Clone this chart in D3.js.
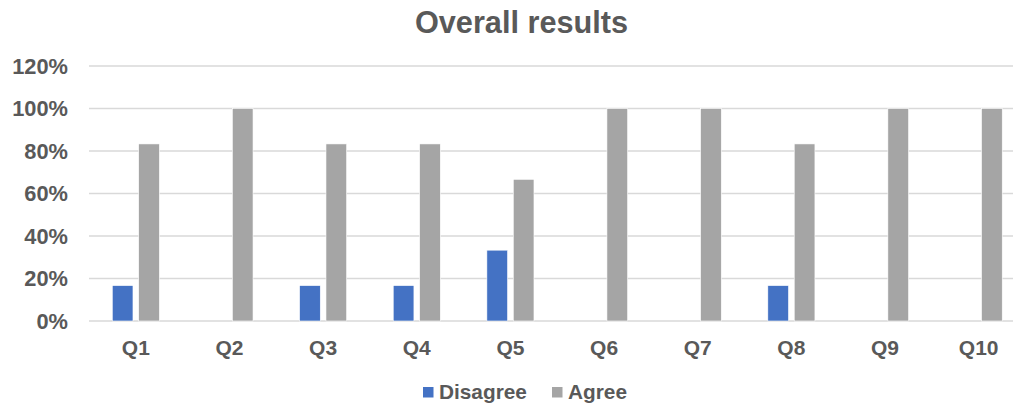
<!DOCTYPE html>
<html>
<head>
<meta charset="utf-8">
<script src="https://cdn.jsdelivr.net/npm/d3@7"></script>
<style>
  body { margin: 0; background: #fff; }
  text { font-family: "Liberation Sans", Arial, sans-serif; font-weight: bold; fill: #595959; }
</style>
</head>
<body>
<script>
var categories = ["Q1","Q2","Q3","Q4","Q5","Q6","Q7","Q8","Q9","Q10"];
var seriesNames = ["Disagree","Agree"];
var disagree = [1/6, 0, 1/6, 1/6, 1/3, 0, 0, 1/6, 0, 0];
var agree = [5/6, 1, 5/6, 5/6, 2/3, 1, 1, 5/6, 1, 1];
var yTicks = [0, 0.2, 0.4, 0.6, 0.8, 1.0, 1.2];
var colors = ["#4472C4", "#A5A5A5"];

var width = 1013;
var height = 404;

var svg = d3.select("body").append("svg").attr("width", width).attr("height", height);

var x = d3.scaleBand().domain(categories).range([89, 1025.5]);
var y = d3.scaleLinear().domain([0, 1.2]).range([321, 66]);

var barW = 20.7, barGap = 5.7;

// title
svg.append("text")
  .attr("x", 521.5).attr("y", 33)
  .attr("text-anchor", "middle")
  .style("font-size", "30.7px")
  .text("Overall results");

// gridlines
svg.append("g").selectAll("line")
  .data(yTicks)
  .enter().append("line")
    .attr("x1", 89).attr("x2", 1025.5)
    .attr("y1", function(d){ return y(d); })
    .attr("y2", function(d){ return y(d); })
    .attr("stroke", "#D9D9D9")
    .attr("stroke-width", 1.5);

// y labels
svg.append("g").selectAll("text")
  .data(yTicks)
  .enter().append("text")
    .attr("x", 68)
    .attr("y", function(d){ return y(d); })
    .attr("text-anchor", "end")
    .attr("dominant-baseline", "central")
    .style("font-size", "21.8px")
    .text(function(d){ return Math.round(d*100) + "%"; });

// x labels
svg.append("g").selectAll("text")
  .data(categories)
  .enter().append("text")
    .attr("x", function(d){ return x(d) + x.bandwidth()/2; })
    .attr("y", 355)
    .attr("text-anchor", "middle")
    .style("font-size", "21px")
    .text(function(d){ return d; });

// bars
var series = [disagree, agree];
var groups = svg.append("g").selectAll("g")
  .data(series)
  .enter().append("g")
    .attr("fill", function(d,i){ return colors[i]; });

groups.selectAll("rect")
  .data(function(d, i){ return d.map(function(v, j){ return {v: v, c: categories[j], s: i}; }); })
  .enter().append("rect")
    .attr("x", function(d){
      var c = x(d.c) + x.bandwidth()/2;
      return d.s === 0 ? c - barGap/2 - barW : c + barGap/2;
    })
    .attr("y", function(d){ return y(d.v); })
    .attr("width", barW)
    .attr("height", function(d){ return y(0) - y(d.v); })
    .attr("stroke", "#fff")
    .attr("stroke-width", 0.6);

// legend
var legendX = [423, 552];
var legend = svg.append("g").selectAll("g")
  .data(seriesNames)
  .enter().append("g")
    .attr("transform", function(d,i){ return "translate(" + legendX[i] + ",387)"; });

legend.append("rect")
  .attr("width", 10.5).attr("height", 10.5)
  .attr("fill", function(d,i){ return colors[i]; });

legend.append("text")
  .attr("x", 16).attr("y", 12)
  .style("font-size", "20.8px")
  .text(function(d){ return d; });
</script>
</body>
</html>
